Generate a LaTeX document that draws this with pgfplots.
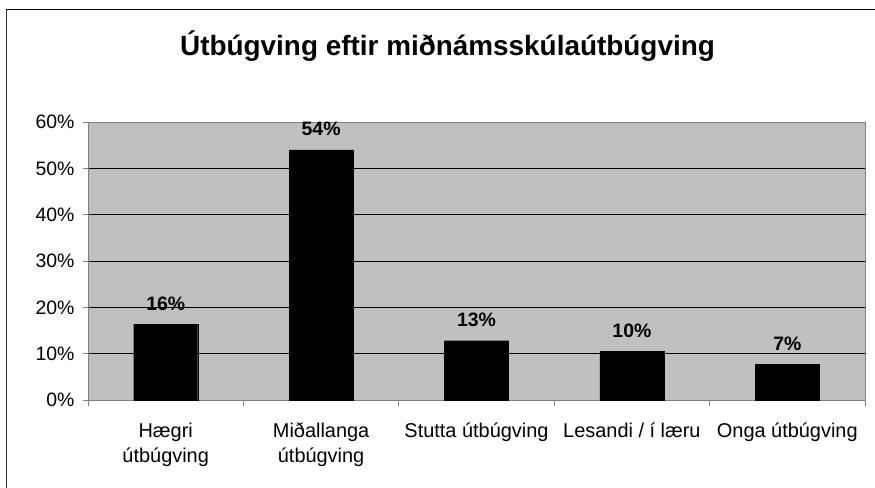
\documentclass[border=0pt]{standalone}
\usepackage{pgfplots}
\pgfplotsset{compat=1.18}
\usepackage{fontspec}
\setmainfont{Liberation Sans}
\definecolor{plotbg}{HTML}{C0C0C0}
\definecolor{frame}{HTML}{808080}
\begin{document}
\begin{tikzpicture}
    \path[use as bounding box] (0,0) rectangle (875bp,-488bp);
    \draw[line width=1.2bp, black!80] (6.5bp,-9bp) -- (6.5bp,-488bp);
    \draw[line width=0.9bp, black] (6bp,-9bp) -- (875bp,-9bp);
    \node[anchor=base, font=\fontsize{28}{32}\selectfont\bfseries] at (447.5bp,-55bp)
        {Útbúgving eftir miðnámsskúlaútbúgving};
    \begin{axis}[
        at={(88bp,-400bp)},
        anchor=south west,
        scale only axis,
        width=777bp,
        height=278bp,
        ymin=0, ymax=60,
        xmin=-0.5, xmax=4.5,
        axis background/.style={fill=plotbg},
        axis line style={frame, line width=1bp},
        ytick={0,10,...,60},
        yticklabel={\pgfmathprintnumber{\tick}\%},
        ymajorgrids,
        grid style={black, line width=0.6bp},
        xtick={0,...,4},
        xticklabels={\strut Hægri\\útbúgving, \strut Miðallanga\\útbúgving, \strut Stutta útbúgving, \strut Lesandi / í læru, \strut Onga útbúgving},
        minor xtick={-0.5,0.5,...,4.5},
        major x tick style={draw=none},
        xtick pos=bottom, ytick pos=left,
        tick align=outside,
        tick style={frame, line width=0.8bp},
        major tick length=5bp,
        minor tick length=6bp,
        xticklabel style={align=center, font=\fontsize{20}{25}\selectfont, yshift=-12bp},
        yticklabel style={font=\fontsize{19.5}{22}\selectfont, xshift=-5bp},
        /pgf/number format/assume math mode=true,
        nodes near coords,
        point meta=explicit symbolic,
        every node near coord/.append style={font=\fontsize{19.5}{22}\selectfont\bfseries, anchor=base, yshift=14bp},
    ]
    \addplot[ybar, bar width=64bp, fill=black, draw=black] coordinates {
        (0, 16.3) [16\%]
        (1, 54.0) [54\%]
        (2, 12.8) [13\%]
        (3, 10.5) [10\%]
        (4, 7.7) [7\%]
    };
    \end{axis}
\end{tikzpicture}
\end{document}
